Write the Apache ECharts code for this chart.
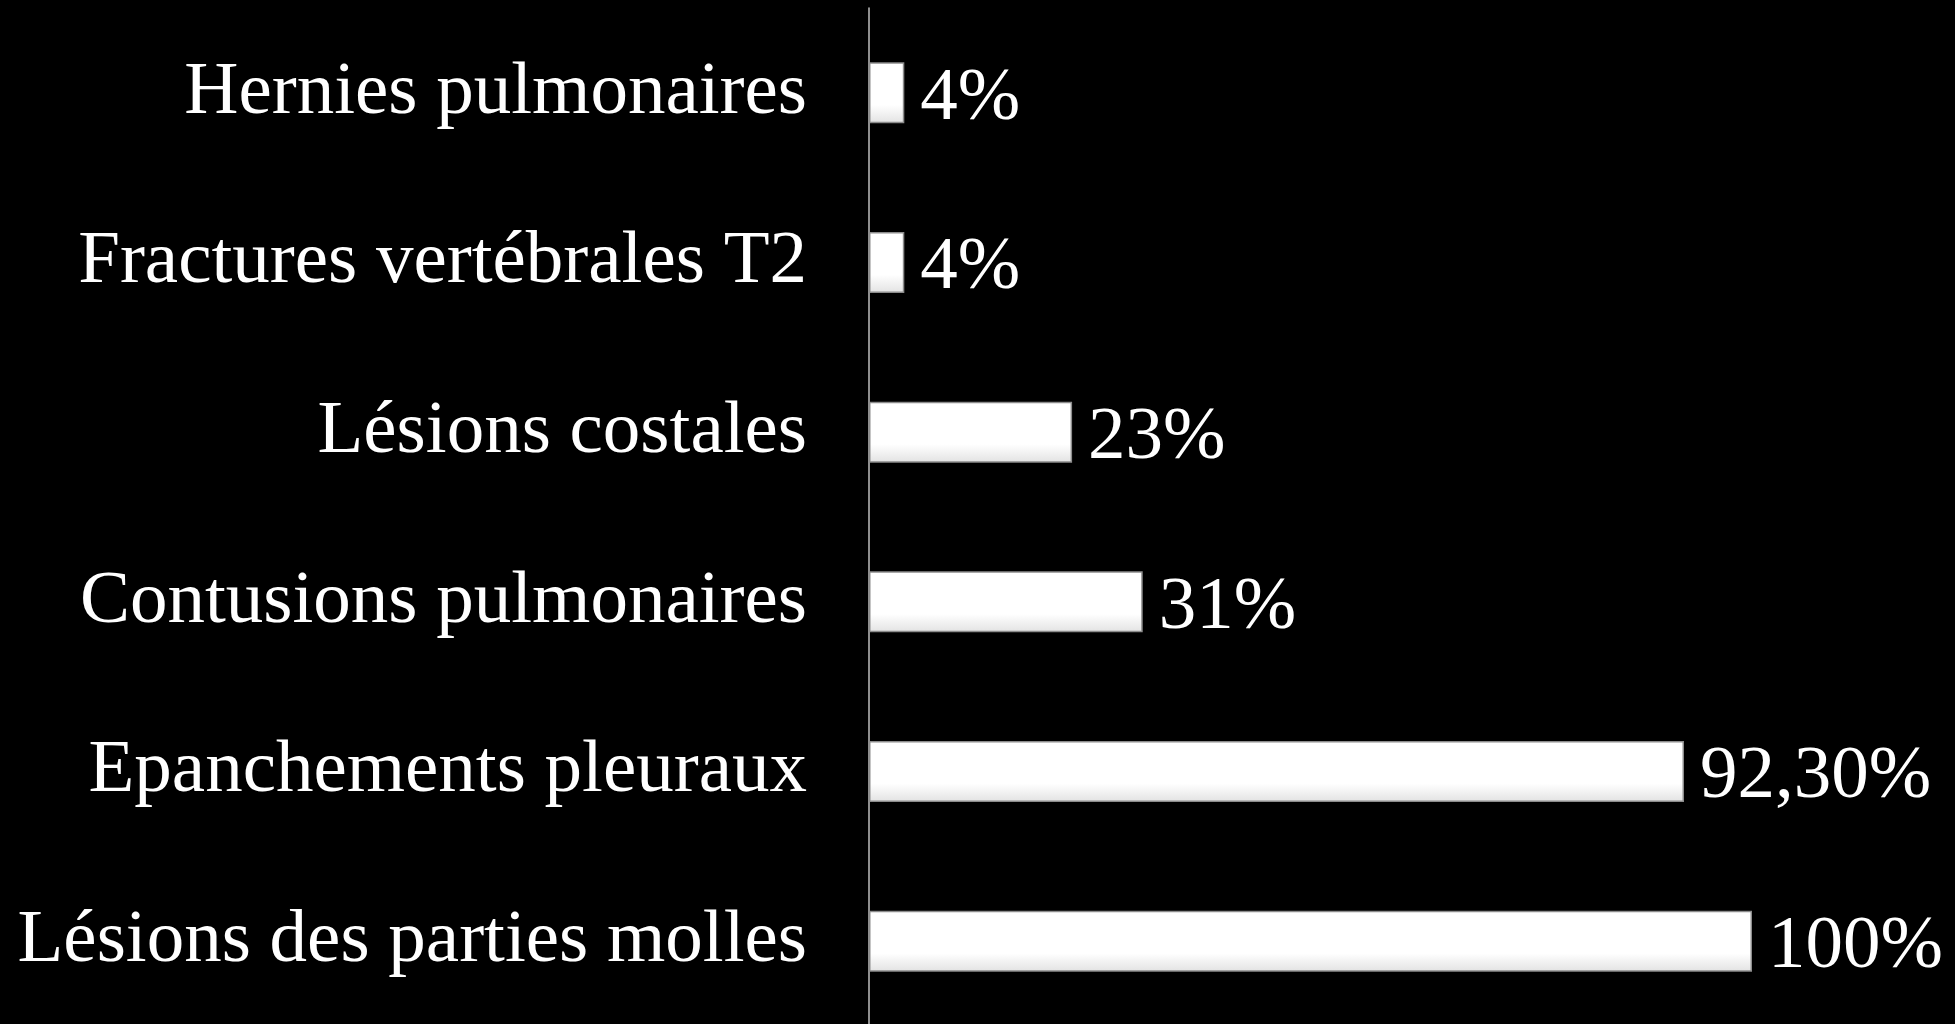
<!DOCTYPE html>
<html>
<head>
<meta charset="utf-8">
<title>Lésions thoraciques</title>
<script src="https://cdn.jsdelivr.net/npm/echarts@6/dist/echarts.min.js"></script>
<style>
  html, body { margin: 0; padding: 0; background: #000; }
  #chart { width: 1955px; height: 1024px; }
</style>
</head>
<body>
<div id="chart"></div>
<script>
// Injury categories, listed top to bottom
const categories = [
  'Hernies pulmonaires',
  'Fractures vertébrales T2',
  'Lésions costales',
  'Contusions pulmonaires',
  'Epanchements pleuraux',
  'Lésions des parties molles'
];
// Share of patients (%)
const percentages = [4, 4, 23, 31, 92.3, 100];

function formatPct(v) {
  return (Number.isInteger(v) ? String(v) : v.toFixed(2).replace('.', ',')) + '%';
}

const chart = echarts.init(document.getElementById('chart'), null, { renderer: 'canvas' });

const serif = "'Liberation Serif', 'Times New Roman', serif";

chart.setOption({
  backgroundColor: '#000000',
  animation: false,
  grid: {
    left: 869,
    right: 203,
    top: 8,
    bottom: -2,
    containLabel: false,
    outerBoundsMode: 'none'
  },
  xAxis: {
    type: 'value',
    min: 0,
    max: 100,
    show: false
  },
  yAxis: {
    type: 'category',
    data: categories,
    inverse: true,
    axisLine: { show: true, lineStyle: { color: '#bfbfbf', width: 1.5 } },
    axisTick: { show: false },
    splitLine: { show: false },
    axisLabel: {
      color: '#ffffff',
      fontFamily: serif,
      fontSize: 75,
      margin: 62,
      verticalAlign: 'middle',
      padding: [12, 0, 0, 0]
    }
  },
  series: [{
    type: 'bar',
    data: percentages,
    barWidth: '36%',
    itemStyle: {
      color: new echarts.graphic.LinearGradient(0, 0, 0, 1, [
        { offset: 0, color: '#ffffff' },
        { offset: 0.7, color: '#ffffff' },
        { offset: 1, color: '#e2e2e2' }
      ]),
      borderColor: '#8c8c8c',
      borderWidth: 1.5
    },
    label: {
      show: true,
      position: 'right',
      distance: 16,
      offset: [0, 6],
      color: '#ffffff',
      fontFamily: serif,
      fontSize: 75,
      formatter: p => formatPct(p.value)
    }
  }]
});
</script>
</body>
</html>
